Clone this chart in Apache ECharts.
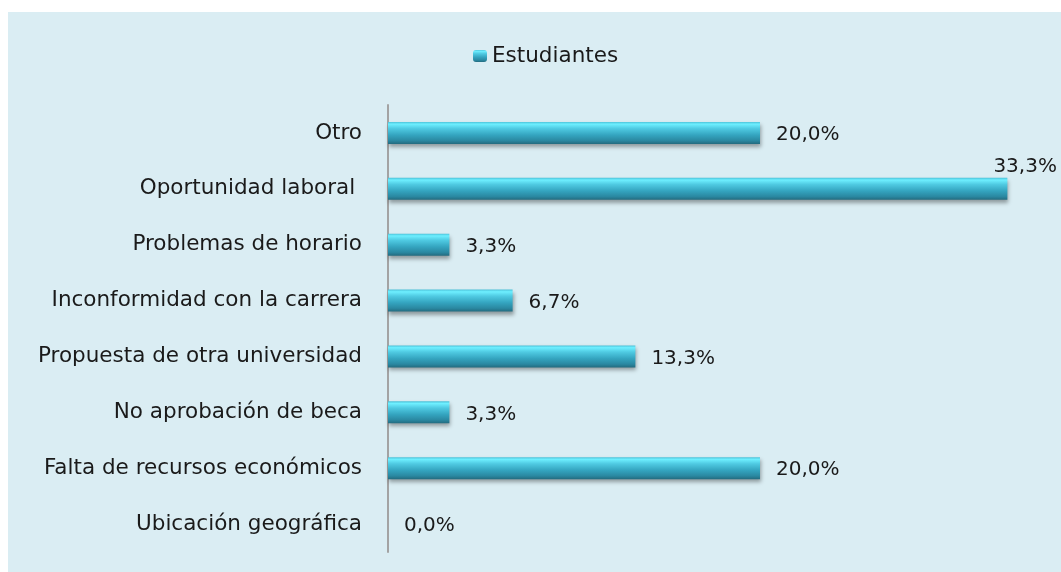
<!DOCTYPE html>
<html>
<head>
<meta charset="utf-8">
<script src="https://cdn.jsdelivr.net/npm/echarts@6/dist/echarts.min.js"></script>
<style>
html,body{margin:0;padding:0;background:#ffffff;}
#chart{width:1061px;height:572px;}
</style>
</head>
<body>
<div id="chart"></div>
<script>
const categories = [
  "Otro",
  "Oportunidad laboral ",
  "Problemas de horario",
  "Inconformidad con la carrera",
  "Propuesta de otra universidad",
  "No aprobación de beca",
  "Falta de recursos económicos",
  "Ubicación geográfica"
];
const seriesName = "Estudiantes";
const values = [20.0, 33.3, 3.3, 6.7, 13.3, 3.3, 20.0, 0.0];

const barGradient = new echarts.graphic.LinearGradient(0, 0, 0, 1, [
  {offset: 0, color: '#4cc2d9'},
  {offset: 0.1, color: '#6eefff'},
  {offset: 0.3, color: '#4fcae2'},
  {offset: 0.6, color: '#34a4bf'},
  {offset: 0.85, color: '#2a88a1'},
  {offset: 1, color: '#236b7f'}
]);

const FONT = '"DejaVu Sans", sans-serif';

const data = values.map((v, i) => {
  const item = {value: v};
  if (v === Math.max(...values)) {
    item.label = {
      position: ['100%', 0],
      align: 'left',
      verticalAlign: 'bottom',
      offset: [-14, -1]
    };
  }
  return item;
});

const chart = echarts.init(document.getElementById('chart'), null, {renderer: 'canvas'});
chart.setOption({
  animation: false,
  backgroundColor: '#ffffff',
  graphic: [{
    type: 'rect',
    left: 8, top: 12,
    shape: {width: 1053, height: 560},
    style: {fill: '#daedf3'},
    z: -10
  }],
  legend: {
    data: [seriesName],
    left: 468,
    top: 40,
    itemWidth: 14,
    itemHeight: 12,
    itemGap: 6,
    textStyle: {fontFamily: FONT, fontSize: 21.5, color: '#1a1a1a'}
  },
  grid: {left: 388, right: 22, top: 105, bottom: 20, containLabel: false},
  xAxis: {
    type: 'value',
    min: 0,
    max: 35,
    show: false
  },
  yAxis: {
    type: 'category',
    data: categories,
    inverse: true,
    axisLine: {show: true, lineStyle: {color: '#a3a3a3', width: 2}},
    axisTick: {show: false},
    splitLine: {show: false},
    axisLabel: {fontFamily: FONT, fontSize: 21.5, color: '#1a1a1a', margin: 26, padding: [5, 0, 0, 0]}
  },
  series: [{
    name: seriesName,
    type: 'bar',
    data: data,
    barWidth: 22,
    itemStyle: {
      color: barGradient,
      shadowColor: 'rgba(0,0,0,0.35)',
      shadowBlur: 4,
      shadowOffsetY: 3,
      shadowOffsetX: 1
    },
    label: {
      show: true,
      position: 'right',
      distance: 16,
      offset: [0, 2],
      fontFamily: FONT,
      fontSize: 20,
      color: '#1a1a1a',
      formatter: p => p.value.toFixed(1).replace('.', ',') + '%'
    }
  }]
});
</script>
</body>
</html>
